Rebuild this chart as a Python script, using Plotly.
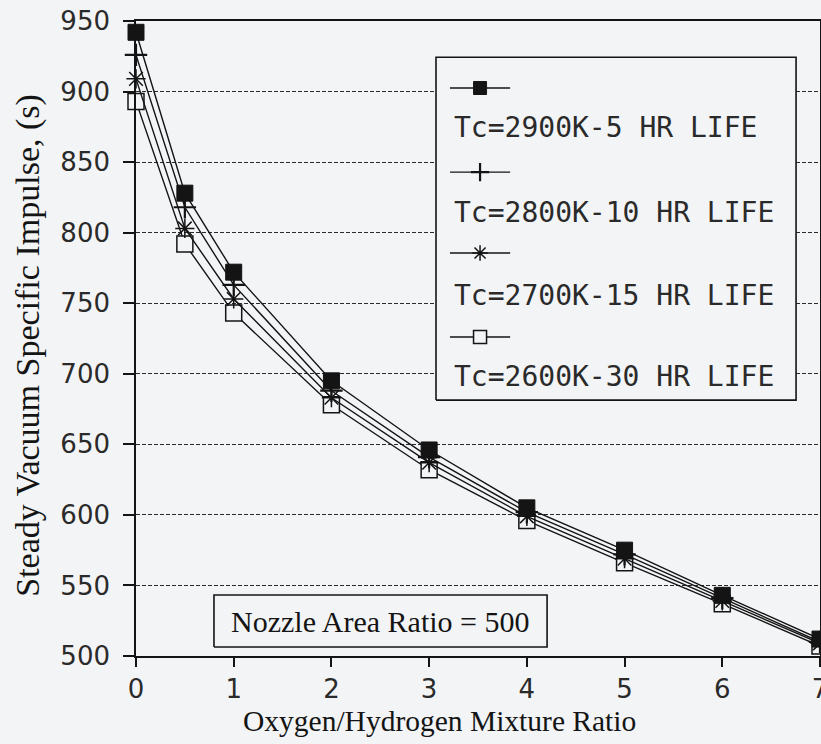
import plotly.graph_objects as go

# ---- data ----
mixture_ratio = [0, 0.5, 1, 2, 3, 4, 5, 6, 7]
isp_2900K_5hr = [942, 828, 772, 695, 646, 605, 575, 543, 512]
isp_2800K_10hr = [926, 818, 763, 688, 641, 602, 572, 541, 510]
isp_2700K_15hr = [909, 803, 753, 683, 637, 599, 569, 539, 509]
isp_2600K_30hr = [893, 792, 743, 678, 632, 596, 566, 537, 507]
series_labels = ["Tc=2900K-5 HR LIFE", "Tc=2800K-10 HR LIFE",
                 "Tc=2700K-15 HR LIFE", "Tc=2600K-30 HR LIFE"]
y_ticks = [500, 550, 600, 650, 700, 750, 800, 850, 900, 950]
x_ticks = [0, 1, 2, 3, 4, 5, 6, 7]

BG = "#f3f4f6"
INK = "#141414"

styles = [
    dict(symbol="square", color=INK, line=dict(color=INK, width=1)),
    dict(symbol="cross-thin", color=INK, line=dict(color=INK, width=2.2)),
    dict(symbol="asterisk", color=INK, line=dict(color=INK, width=1.5)),
    dict(symbol="square", color=BG, line=dict(color=INK, width=1.5)),
]
values = [isp_2900K_5hr, isp_2800K_10hr, isp_2700K_15hr, isp_2600K_30hr]

fig = go.Figure()

# draw cooler series first so filled squares end on top
for i in [3, 2, 1, 0]:
    st = styles[i]
    fig.add_trace(go.Scatter(
        x=mixture_ratio, y=values[i], mode="lines+markers",
        line=dict(color=INK, width=1.4),
        marker=dict(symbol=st["symbol"], size=16, color=st["color"], line=st["line"]),
        cliponaxis=False, showlegend=False, name=series_labels[i]))

# ---- boxes (legend frame, note frame) on an overlay axis in paper units ----
def box(x0, x1, y0, y1):
    fig.add_trace(go.Scatter(
        x=[x0, x1, x1, x0, x0], y=[y0, y0, y1, y1, y0], mode="lines",
        fill="toself", fillcolor=BG, line=dict(color=INK, width=1.6),
        xaxis="x2", yaxis="y2", showlegend=False, hoverinfo="skip"))

box(0.4386, 0.965, 0.403, 0.943)
box(0.114, 0.601, 0.0142, 0.096)

# ---- custom legend (symbol above label) ----
leg_sample_y = [0.8945, 0.762, 0.6346, 0.5024]
leg_label_y = [0.8315, 0.699, 0.5685, 0.4394]
for i in range(4):
    st = styles[i]
    fig.add_trace(go.Scatter(
        x=[0.459, 0.547], y=[leg_sample_y[i]] * 2, mode="lines",
        line=dict(color=INK, width=1.4), xaxis="x2", yaxis="y2",
        showlegend=False, hoverinfo="skip"))
    fig.add_trace(go.Scatter(
        x=[0.503], y=[leg_sample_y[i]], mode="markers",
        marker=dict(symbol=st["symbol"], size=13, color=st["color"], line=st["line"]),
        xaxis="x2", yaxis="y2", showlegend=False, hoverinfo="skip"))

annotations = []
for i in range(4):
    annotations.append(dict(
        x=0.462, y=leg_label_y[i], xref="paper", yref="paper",
        xanchor="left", yanchor="middle", showarrow=False,
        text=series_labels[i],
        font=dict(family="DejaVu Sans Mono", size=28, color="#2a2a2a")))

annotations += [
    dict(x=0.444, y=-0.103, xref="paper", yref="paper", showarrow=False,
         xanchor="center", yanchor="middle",
         text="Oxygen/Hydrogen Mixture Ratio",
         font=dict(family="Liberation Serif", size=29.5, color=INK)),
    dict(x=-0.158, y=0.49, xref="paper", yref="paper", showarrow=False,
         xanchor="center", yanchor="middle", textangle=-90,
         text="Steady Vacuum Specific Impulse, (s)",
         font=dict(family="Liberation Serif", size=34, color=INK)),
    dict(x=0.358, y=0.055, xref="paper", yref="paper", showarrow=False,
         xanchor="center", yanchor="middle",
         text="Nozzle Area Ratio = 500",
         font=dict(family="Liberation Serif", size=30, color=INK)),
]

tickfont = dict(family="DejaVu Sans", size=26, color="#2a2a2a")

fig.update_layout(
    width=821, height=744,
    margin=dict(l=136, r=1, t=21, b=88),
    paper_bgcolor=BG, plot_bgcolor=BG,
    showlegend=False,
    xaxis=dict(range=[0, 7], tickvals=x_ticks, ticktext=[str(v) for v in x_ticks],
               showgrid=False, zeroline=False, automargin=False,
               showline=True, linecolor=INK, linewidth=1.6, mirror=True,
               ticks="outside", ticklen=9, tickwidth=1.5, tickcolor=INK,
               tickfont=tickfont, ticklabelstandoff=0, ticklabeloverflow="allow"),
    yaxis=dict(range=[500, 950], tickvals=y_ticks, ticktext=[str(v) for v in y_ticks],
               showgrid=True, gridcolor="#2a2a2a", gridwidth=1, griddash="4px,2px",
               zeroline=False, automargin=False,
               showline=True, linecolor=INK, linewidth=1.6, mirror=True,
               ticks="outside", ticklen=11, tickwidth=1.5, tickcolor=INK,
               tickfont=tickfont, ticklabelstandoff=8),
    xaxis2=dict(domain=[0, 1], range=[0, 1], overlaying="x", visible=False,
                anchor="y2", automargin=False),
    yaxis2=dict(domain=[0, 1], range=[0, 1], overlaying="y", visible=False,
                anchor="x2", automargin=False),
    annotations=annotations,
)

fig.write_html(
    "out.html",
    config={"displayModeBar": False},
    post_script="document.body.style.margin='0';"
                "document.body.style.background='#f3f4f6';",
)
